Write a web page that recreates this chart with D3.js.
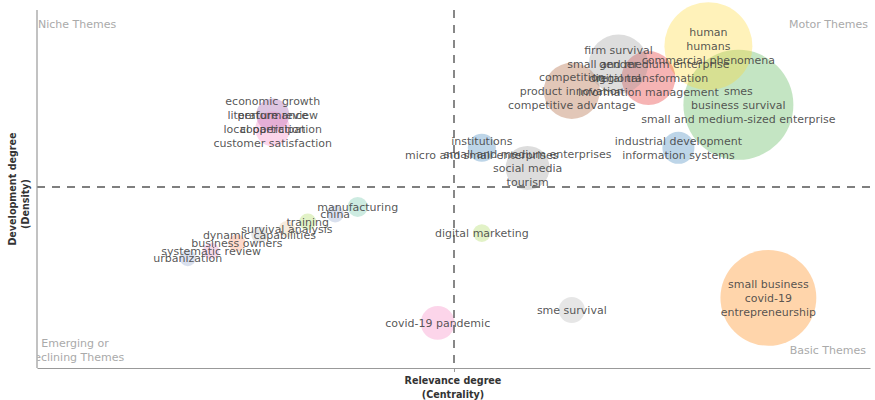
<!DOCTYPE html>
<html>
<head>
<meta charset="utf-8">
<script src="https://cdn.jsdelivr.net/npm/d3@7/dist/d3.min.js"></script>
<style>
  html, body { margin: 0; padding: 0; background: #fff; }
  svg { display: block; font-family: "DejaVu Sans", Verdana, sans-serif; }
</style>
</head>
<body>
<svg id="chart" width="875" height="400"></svg>
<script>
// Thematic map: each cluster is a bubble placed by centrality (x) and density (y),
// sized by keyword frequency and labelled with its top keywords.
const clusterLabels = [
  ["small business", "covid-19", "entrepreneurship"],
  ["smes", "business survival", "small and medium-sized enterprise"],
  ["human", "humans", "commercial phenomena"],
  ["small and medium enterprise", "digital transformation", "information management"],
  ["competition", "product innovation", "competitive advantage"],
  ["firm survival", "gender", "regional"],
  ["industrial development", "information systems"],
  ["institutions", "micro and small enterprises"],
  ["small and medium enterprises", "social media", "tourism"],
  ["economic growth", "literature review", "local participation"],
  ["performance", "cooperation", "customer satisfaction"],
  ["manufacturing"],
  ["china"],
  ["training"],
  ["survival analysis"],
  ["dynamic capabilities"],
  ["business owners"],
  ["systematic review"],
  ["urbanization"],
  ["digital marketing"],
  ["covid-19 pandemic"],
  ["sme survival"]
];
const centrality = [0.878, 0.842, 0.806, 0.734, 0.642, 0.698, 0.770, 0.534, 0.589, 0.283, 0.283,
                    0.385, 0.358, 0.325, 0.300, 0.267, 0.240, 0.209, 0.181, 0.534, 0.481, 0.642];
const density    = [0.196, 0.735, 0.899, 0.810, 0.774, 0.849, 0.615, 0.615, 0.559, 0.707, 0.668,
                    0.450, 0.430, 0.408, 0.388, 0.372, 0.349, 0.327, 0.307, 0.377, 0.126, 0.162];
const frequency  = [76, 100, 64, 24, 26, 29, 8.5, 6.5, 16, 9, 10,
                    3.3, 2.4, 2.4, 2.2, 2.2, 2.4, 2.2, 2.2, 2.6, 9.5, 5.6];
const palette    = ["#ff7f00", "#4daf4a", "#ffd92f", "#e41a1c", "#a65628", "#999999", "#377eb8",
                    "#377eb8", "#999999", "#984ea3", "#f781bf",
                    "#66c2a5", "#8da0cb", "#a6d854", "#e5c494", "#b3b3b3", "#fc8d62",
                    "#e78ac3", "#8da0cb", "#a6d854", "#f781bf", "#b3b3b3"];
const meanCentrality = 0.5006;
const meanDensity = 0.5056;
const quadrantNames = ["Niche Themes", "Motor Themes", "Emerging or|Declining Themes", "Basic Themes"];
const axisTitles = { x: ["Relevance degree", "(Centrality)"], y: ["Development degree", "(Density)"] };

const svg = d3.select("#chart");
const x = d3.scaleLinear().domain([0, 1]).range([37, 870]);
const y = d3.scaleLinear().domain([0, 1]).range([368, 10]);
const r = d3.scaleSqrt().domain([0, 100]).range([0, 55]);

const clusters = clusterLabels.map((labels, i) => ({
  labels, c: centrality[i], d: density[i], f: frequency[i], color: palette[i]
}));

svg.append("defs").append("clipPath").attr("id", "plotClip")
  .append("rect").attr("x", 37.5).attr("y", 0).attr("width", 840).attr("height", 368);

// Quadrant names
const corner = svg.append("g").attr("clip-path", "url(#plotClip)")
  .attr("fill", "#aaaaaa").style("font-size", "11px");
corner.append("text").attr("x", x(0) + 1).attr("y", 28).text(quadrantNames[0]);
corner.append("text").attr("x", x(1) - 2).attr("y", 28).attr("text-anchor", "end").text(quadrantNames[1]);
quadrantNames[2].split("|").forEach((t, i) =>
  corner.append("text").attr("x", 75).attr("y", 347 + i * 14).attr("text-anchor", "middle").text(t));
corner.append("text").attr("x", x(1) - 4).attr("y", 354).attr("text-anchor", "end").text(quadrantNames[3]);

// Bubbles
svg.append("g").selectAll("circle").data(clusters).join("circle")
  .attr("cx", d => x(d.c)).attr("cy", d => y(d.d)).attr("r", d => r(d.f))
  .attr("fill", d => d.color).attr("fill-opacity", 0.33);

// Mean lines
svg.append("line").attr("x1", x(0)).attr("x2", x(1)).attr("y1", y(meanDensity)).attr("y2", y(meanDensity))
  .attr("stroke", "#555").attr("stroke-width", 1.4).attr("stroke-dasharray", "8,7");
svg.append("line").attr("x1", x(meanCentrality)).attr("x2", x(meanCentrality)).attr("y1", y(1)).attr("y2", y(0))
  .attr("stroke", "#555").attr("stroke-width", 1.4).attr("stroke-dasharray", "8,7");

// Axes frame
svg.append("line").attr("x1", x(0)).attr("x2", x(0)).attr("y1", y(1)).attr("y2", y(0))
  .attr("stroke", "#999").attr("stroke-width", 1.2);
const xAxis = svg.append("g").attr("transform", `translate(0,${y(0)})`)
  .call(d3.axisBottom(x).tickValues([meanCentrality]).tickFormat("").tickSize(4).tickSizeOuter(0));
xAxis.select(".domain").attr("stroke", "#999").attr("stroke-width", 1.2);
xAxis.selectAll(".tick line").attr("stroke", "#999");

// Cluster labels
const lab = svg.append("g").attr("fill", "#444").attr("fill-opacity", 0.9)
  .style("font-size", "11px").attr("text-anchor", "middle");
clusters.forEach(d => {
  const n = d.labels.length;
  d.labels.forEach((t, j) => {
    lab.append("text")
      .attr("x", x(d.c))
      .attr("y", y(d.d) + (j - (n - 1) / 2) * 14)
      .attr("dy", "0.35em")
      .text(t);
  });
});

// Axis titles
const titles = svg.append("g").attr("fill", "#333").style("font-size", "9.6px")
  .style("font-weight", "bold").attr("text-anchor", "middle");
axisTitles.x.forEach((t, i) =>
  titles.append("text").attr("x", 453).attr("y", 384 + i * 13.5).text(t));
titles.append("text").attr("transform", "translate(16,189) rotate(-90)").text(axisTitles.y[0]);
titles.append("text").attr("transform", "translate(29,204) rotate(-90)").text(axisTitles.y[1]);
</script>
</body>
</html>
